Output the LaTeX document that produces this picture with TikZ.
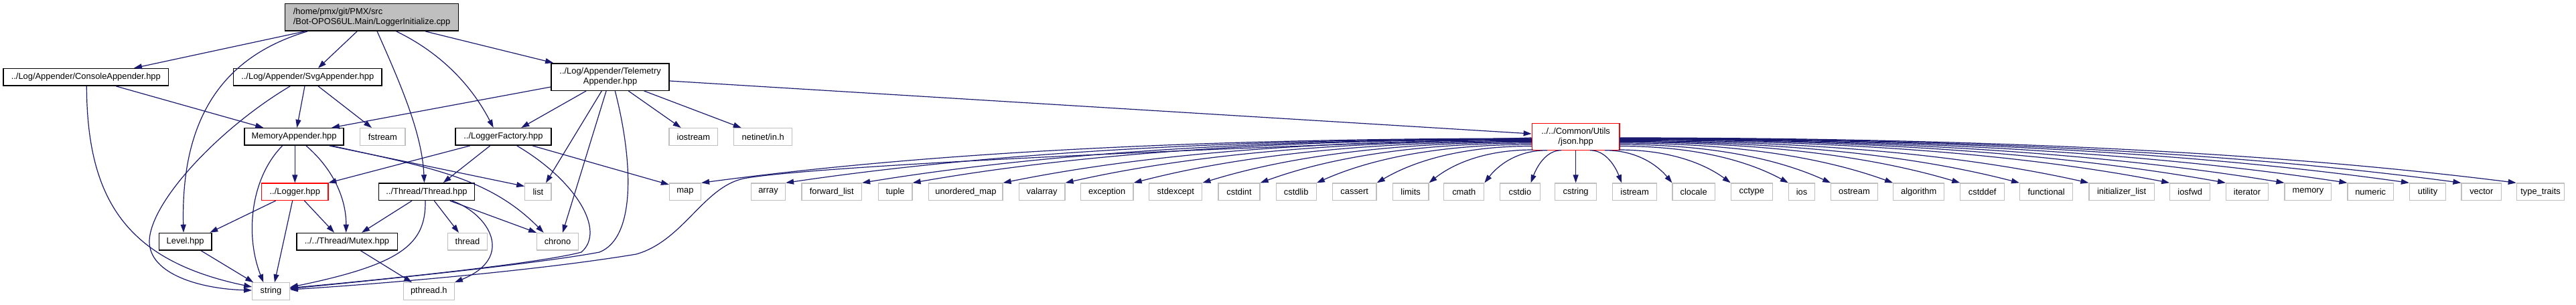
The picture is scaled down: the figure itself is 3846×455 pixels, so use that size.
\documentclass[tikz,border=0pt]{standalone}
\usepackage{fontspec}
\setmainfont{Liberation Sans}
\usetikzlibrary{arrows.meta,calc}
\definecolor{edgecol}{RGB}{25,25,112}
\definecolor{graybd}{RGB}{191,191,191}
\begin{document}
\begin{tikzpicture}[x=1pt,y=-1pt,
  box/.style={rectangle,inner sep=0pt,minimum height=25.5pt,font=\fontsize{12.9}{15}\selectfont},
  bbox/.style={box,draw=black,line width=1.5pt},
  gbox/.style={box,draw=graybd,line width=1.2pt},
  rbox/.style={box,draw=red,line width=1.2pt},
  tall/.style={minimum height=40.5pt,align=center},
  edge/.style={draw=edgecol,line width=1.2pt,-{Triangle[length=12pt,width=8pt]}}
]
\fill[white] (0,0) rectangle (3846,455);
\useasboundingbox (0,0) rectangle (3846,455);

% nodes
\node[bbox,tall,align=left,fill=graybd,minimum width=259pt] (main) at (555.1,25.9) {/home/pmx/git/PMX/src\\/Bot-OPOS6UL.Main/LoggerInitialize.cpp};
\node[bbox,minimum width=246.8pt] (console) at (128.3,115.3) {../Log/Appender/ConsoleAppender.hpp};
\node[bbox,minimum width=221.7pt] (svg) at (459.3,115.3) {../Log/Appender/SvgAppender.hpp};
\node[bbox,tall,minimum width=176.2pt] (telem) at (911.1,115) {../Log/Appender/Telemetry\\Appender.hpp};
\node[bbox,minimum width=148.2pt] (memapp) at (439.1,204.4) {MemoryAppender.hpp};
\node[gbox,minimum width=67.3pt] (fstream) at (571.4,204.4) {fstream};
\node[bbox,minimum width=143.3pt] (lfactory) at (751.4,204.4) {../LoggerFactory.hpp};
\node[gbox,minimum width=72.7pt] (iostream) at (1035.4,204.4) {iostream};
\node[gbox,minimum width=87pt] (netinet) at (1139.2,204.4) {netinet/in.h};
\node[rbox,tall,minimum width=130.8pt] (json) at (2352.6,204.5) {../../Common/Utils\\/json.hpp};
\node[rbox,minimum width=99.2pt] (logger) at (440.3,286.7) {../Logger.hpp};
\node[bbox,minimum width=142.8pt] (threadhpp) at (637,286.7) {../Thread/Thread.hpp};
\node[gbox,minimum width=39.2pt] (list) at (803.4,286.7) {list};
\foreach \n/\cx/\w/\t in {map/1023/47/map, array/1147/51/array, fwdlist/1241.8/89.5/forward\_list,
  tuple/1336.6/50.8/tuple, umap/1441.9/110.2/unordered\_map, valarray/1555.6/68.7/valarray,
  exception/1652.6/78.8/exception, stdexcept/1755.3/79/stdexcept, cstdint/1850/62/cstdint,
  cstdlib/1935.2/60/cstdlib, cassert/2022.2/65.7/cassert, limits/2106.1/53.6/limits,
  cmath/2185.8/60/cmath, cstdio/2269.4/60/cstdio, cstring/2352.6/61.8/cstring,
  istream/2440.6/65.7/istream, clocale/2528.6/63.2/clocale, cctype/2615.3/62/cctype,
  ios/2690/39/ios, ostream/2768.5/69.5/ostream, algorithm/2864.7/76/algorithm,
  cstddef/2959.7/65.7/cstddef, functional/3055.1/79/functional, initlist/3167.6/97.4/initializer\_list,
  iosfwd/3269.7/60/iosfwd, iterator/3355/63/iterator, memory/3445.9/69.7/memory,
  numeric/3539.2/68.4/numeric, utility/3624.5/54/utility, vector/3704.8/59.6/vector,
  typetraits/3793/71.4/type\_traits}
  {\node[gbox,minimum width=\w pt] (\n) at (\cx,286.7) {\t};}
\node[bbox,minimum width=78.7pt] (level) at (276.7,361.2) {Level.hpp};
\node[bbox,minimum width=150.5pt] (mutex) at (518,361.2) {../../Thread/Mutex.hpp};
\node[gbox,minimum width=58.4pt] (stdthread) at (698,361.2) {thread};
\node[gbox,minimum width=61.6pt] (chrono) at (832.5,361.2) {chrono};
\node[gbox,minimum width=55.6pt] (string) at (404.5,435.5) {string};
\node[gbox,minimum width=76pt] (pthread) at (640.3,435.5) {pthread.h};

% main
\draw[edge] ([xshift=-100pt]main.south) -- ([xshift=71.7pt]console.north);
\draw[edge] ([xshift=-96pt]main.south) .. controls (330,85) and (270,180) .. ([xshift=-2.7pt]level.north);
\draw[edge] ([xshift=-22pt]main.south) -- ([xshift=15.7pt]svg.north);
\draw[edge] ([xshift=8pt]main.south) .. controls (600,130) and (630,200) .. ([xshift=-3.5pt]threadhpp.north);
\draw[edge] ([xshift=36.6pt]main.south) .. controls (650,75) and (700,120) .. ([xshift=-14.7pt]lfactory.north);
\draw[edge] ([xshift=80pt]main.south) -- ([xshift=-85pt]telem.north);
% console
\draw[edge] ([xshift=44.7pt]console.south) -- ([xshift=-45.8pt]memapp.north);
\draw[edge] ([xshift=1pt]console.south) .. controls (130,300) and (190,390) .. ([yshift=6.5pt]string.west);
% svg
\draw[edge] ([xshift=-4.3pt]svg.south) -- ([xshift=4.2pt]memapp.north);
\draw[edge] ([xshift=-26pt]svg.south) .. controls (330,190) and (225,300) .. (223,360) .. controls (222,410) and (300,432) .. ([yshift=1.5pt]string.west);
\draw[edge] ([xshift=15.7pt]svg.south) -- ([xshift=-16.4pt]fstream.north);
% telemetry
\draw[edge] ([yshift=-15pt]telem.west) -- ([xshift=55.9pt]memapp.north);
\draw[edge] ([xshift=-36pt]telem.south) -- ([xshift=26.9pt]lfactory.north);
\draw[edge] ([xshift=-12.8pt]telem.south) -- ([xshift=11.6pt]list.north);
\draw[edge] ([xshift=-6pt]telem.south) -- ([xshift=7.5pt]chrono.north);
\draw[edge] ([xshift=7.2pt]telem.south) .. controls (945,240) and (950,355) .. (895,377) .. controls (800,395) and (550,420) .. ([yshift=4pt]string.east);
\draw[edge] ([xshift=27.2pt]telem.south) -- ([xshift=-18.7pt]iostream.north);
\draw[edge] ([xshift=50.6pt]telem.south) -- ([xshift=-32.5pt]netinet.north);
\draw[edge] ([yshift=-6pt]telem.east) -- ([yshift=4.5pt]json.west);
% logger factory
\draw[edge] ([xshift=-49.7pt]lfactory.south) -- ([xshift=50pt]logger.north);
\draw[edge] ([xshift=-19.7pt]lfactory.south) -- ([xshift=24.7pt]threadhpp.north);
\draw[edge] ([xshift=43.6pt]lfactory.south) -- ([yshift=-2.7pt]map.north west);
\draw[edge] ([xshift=20.3pt]lfactory.south) .. controls (860,270) and (905,345) .. (868,377) .. controls (800,395) and (550,420) .. ([yshift=5pt]string.east);
% memory appender
\draw[edge] ([xshift=1.2pt]memapp.south) -- (logger.north);
\draw[edge] ([xshift=-17.4pt]memapp.south) .. controls (375,265) and (365,350) .. ([xshift=-11.2pt]string.north);
\draw[edge] ([xshift=17.9pt]memapp.south) .. controls (500,255) and (517,300) .. ([xshift=-1.3pt]mutex.north);
\draw[edge] ([xshift=52.6pt]memapp.south) -- ([yshift=8.2pt]list.west);
\draw[edge] ([xshift=55.9pt]memapp.south) .. controls (640,250) and (730,265) .. ([xshift=-20.8pt]chrono.north);
% logger
\draw[edge] ([xshift=-28.6pt]logger.south) -- ([xshift=36.6pt]level.north);
\draw[edge] ([xshift=-3.6pt]logger.south) -- ([xshift=5.5pt]string.north);
\draw[edge] ([xshift=14.1pt]logger.south) -- ([xshift=-19pt]mutex.north);
% thread
\draw[edge] ([xshift=-22pt]threadhpp.south) -- ([xshift=22pt]mutex.north);
\draw[edge] ([xshift=11.3pt]threadhpp.south) -- ([xshift=-13pt]stdthread.north);
\draw[edge] ([xshift=34.7pt]threadhpp.south) -- (chrono.north west);
\draw[edge] ([xshift=38pt]threadhpp.south) .. controls (730,320) and (770,385) .. (pthread.north east);
\draw[edge] ([xshift=-2pt]threadhpp.south) .. controls (636,365) and (600,395) .. ([yshift=6pt]string.east);
% mutex, level
\draw[edge] ([xshift=20.3pt]mutex.south) -- ([xshift=-25.3pt]pthread.north);
\draw[edge] ([xshift=23.3pt]level.south) -- ([xshift=-26.2pt]string.north);
% json
\draw[edge] ([yshift=-1.5pt]json.west) .. controls (1700,225) and (1200,250) .. (1110,267) .. controls (1050,280) and (1020,360) .. (950,380) .. controls (800,405) and (560,425) .. ([yshift=2.5pt]string.east);
\draw[edge] (json.south) -- (cstring.north);
\foreach \c/\sx/\sy/\anc/\ex in {map/-65.4/2.5/north east/0, array/-65.4/3/north east/0,
  fwdlist/-65.4/3.5/north east/0, tuple/-65.4/4/north east/0, umap/-65.4/5/north east/0,
  valarray/-65.4/6/north east/0, exception/-65.4/7/north east/0, stdexcept/-65.4/8/north east/0,
  cstdint/-65.4/9.5/north east/0, cstdlib/-65.4/11.5/north east/0, cassert/-65.4/14/north east/0,
  limits/-64/19.5/north east/0, cmath/-42.6/20.2/north east/0, cstdio/-21.6/20.2/north east/-14.5,
  istream/21.4/20.2/north west/14, clocale/43.4/20.2/north west/0, cctype/64/19.5/north west/0,
  ios/65.4/14/north west/0, ostream/65.4/11.5/north west/0, algorithm/65.4/9.5/north west/0,
  cstddef/65.4/8/north west/0, functional/65.4/7/north west/0, initlist/65.4/6/north west/0,
  iosfwd/65.4/5/north west/0, iterator/65.4/4/north west/0, memory/65.4/3.5/north west/0,
  numeric/65.4/3/north west/0, utility/65.4/2.5/north west/0, vector/65.4/2/north west/0,
  typetraits/65.4/1.5/north west/0}
{
  \draw[edge] let \p1=($(json.center)+(\sx,\sy)$), \p2=([xshift=\ex pt]\c.\anc) in
    (\p1) .. controls ({\x1+0.5*((\x2)-(\x1))},\y1) and ({\x2+0.2*((\x1)-(\x2))},{\y2+0.5*((\y1)-(\y2))}) .. (\p2);
}
\end{tikzpicture}
\end{document}
